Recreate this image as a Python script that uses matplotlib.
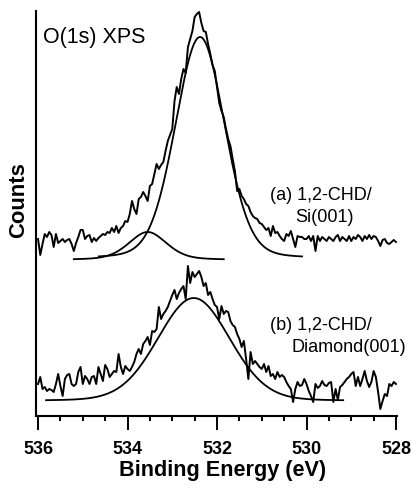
import numpy as np
import matplotlib
matplotlib.use("Agg")
import matplotlib.pyplot as plt
from matplotlib.ticker import MultipleLocator

plt.rcParams['font.family'] = ['Liberation Sans', 'DejaVu Sans']

# ---------------- data ----------------
# binding energy grid of the measured spectra (eV), 0.05 eV steps from 536 to 528
energy = np.linspace(536.0, 528.0, 161)

# (a) 1,2-CHD/Si(001) raw counts (arbitrary units)
counts_a = [
    177, 161, 172, 182, 179, 184, 181, 169, 182, 173, 175, 177, 174, 176, 177, 172, 165, 173, 179, 186,
    186, 177, 180, 181, 174, 178, 175, 178, 180, 182, 181, 184, 183, 188, 184, 190, 183, 188, 190, 195,
    194, 202, 215, 207, 202, 217, 219, 224, 220, 215, 230, 232, 242, 252, 247, 251, 254, 265, 275, 281,
    287, 315, 329, 322, 337, 347, 343, 369, 377, 385, 399, 402, 404, 393, 385, 384, 372, 362, 351, 345,
    329, 313, 305, 299, 287, 277, 270, 257, 245, 225, 227, 220, 217, 212, 210, 204, 200, 198, 197, 193,
    192, 189, 186, 188, 180, 190, 183, 184, 180, 177, 175, 182, 180, 185, 177, 169, 180, 179, 179, 177,
    177, 180, 175, 180, 165, 180, 175, 179, 177, 175, 179, 177, 175, 179, 181, 175, 179, 177, 175, 180,
    175, 179, 177, 181, 179, 175, 180, 177, 181, 177, 180, 179, 175, 170, 176, 177, 173, 172, 174, 176,
    174,
]

# (b) 1,2-CHD/Diamond(001) raw counts (arbitrary units)
counts_b = [
    32, 39, 27, 29, 25, 27, 26, 24, 32, 42, 30, 20, 37, 41, 42, 32, 30, 32, 44, 49,
    32, 40, 37, 32, 39, 40, 32, 49, 42, 35, 51, 47, 39, 42, 45, 44, 62, 49, 42, 50,
    47, 45, 49, 54, 62, 67, 62, 72, 75, 79, 71, 85, 84, 87, 109, 97, 102, 105, 109, 115,
    121, 126, 117, 123, 127, 130, 117, 150, 133, 144, 139, 142, 145, 139, 130, 133, 121, 124, 117, 111,
    109, 97, 110, 102, 105, 104, 95, 91, 89, 82, 77, 69, 75, 57, 37, 64, 52, 55, 52, 49,
    47, 52, 44, 50, 40, 42, 37, 44, 39, 41, 39, 34, 30, 27, 14, 27, 34, 30, 31, 37,
    32, 25, 20, 14, 32, 28, 30, 35, 31, 30, 33, 34, 14, 27, 16, 29, 31, 34, 37, 39,
    42, 44, 30, 39, 30, 37, 45, 35, 29, 34, 45, 39, 24, 7, 15, 22, 20, 32, 30, 34,
    32,
]

# fitted peak components (pseudo-Voigt): center (eV), height, baseline, FWHM (eV), Lorentz fraction, drawn range
fit_centers   = [532.38, 533.55, 532.52]
fit_heights   = [222, 28, 103]
fit_baselines = [157, 156, 15]
fit_fwhm      = [1.30, 1.00, 1.90]
fit_eta       = [0.15, 0.35, 0.10]
fit_start     = [534.64, 535.20, 535.82]
fit_end       = [530.10, 531.85, 529.18]

xticks = [536, 534, 532, 530, 528]


def pseudo_voigt(x, c, h, b, w, eta):
    g = np.exp(-4 * np.log(2) * ((x - c) / w) ** 2)
    l = 1.0 / (1.0 + 4 * ((x - c) / w) ** 2)
    return b + h * (eta * l + (1 - eta) * g)


# ---------------- figure ----------------
W, H = 412, 489
fig = plt.figure(figsize=(W / 100, H / 100), dpi=100)
ax = fig.add_axes([35.8 / W, 72 / H, 361.1 / W, 405 / H])

ax.plot(energy, counts_a, color='black', lw=1.4)
ax.plot(energy, counts_b, color='black', lw=1.4)

for c, h, b, w, eta, s, e in zip(fit_centers, fit_heights, fit_baselines,
                                 fit_fwhm, fit_eta, fit_start, fit_end):
    xx = np.linspace(s, e, 300)
    ax.plot(xx, pseudo_voigt(xx, c, h, b, w, eta), color='black', lw=1.3)

ax.set_xlim(536.05, 527.98)
ax.set_ylim(0, 405)

for sp in ['top', 'right']:
    ax.spines[sp].set_visible(False)
for sp in ['left', 'bottom']:
    ax.spines[sp].set_linewidth(1.5)

ax.set_yticks([])
ax.set_xticks(xticks)
ax.set_xticklabels([str(t) for t in xticks])
ax.xaxis.set_minor_locator(MultipleLocator(0.5))
ax.tick_params(axis='x', which='major', direction='out', length=10, width=1.4,
               pad=7.5, labelsize=13)
ax.tick_params(axis='x', which='minor', direction='out', length=3.8, width=1.4)
for lab in ax.get_xticklabels():
    lab.set_fontweight('bold')


def fx(px):
    return px / W


def fy(py):
    return 1 - py / H


fig.text(fx(223), fy(476.5), 'Binding Energy (eV)', ha='center', va='baseline',
         fontsize=15.6, fontweight='bold')
fig.text(fx(18.5), fy(200), 'Counts', ha='center', va='center', rotation=90,
         fontsize=15.8, fontweight='bold')

fig.text(fx(43.3), fy(43.3), 'O(1s) XPS', ha='left', va='baseline', fontsize=15.5)
fig.text(fx(270), fy(200), '(a) 1,2-CHD/', ha='left', va='baseline', fontsize=13)
fig.text(fx(295), fy(221.7), 'Si(001)', ha='left', va='baseline', fontsize=13)
fig.text(fx(270), fy(330), '(b) 1,2-CHD/', ha='left', va='baseline', fontsize=13)
fig.text(fx(291.7), fy(352.3), 'Diamond(001)', ha='left', va='baseline', fontsize=13)

fig.savefig('out.png', dpi=100)
